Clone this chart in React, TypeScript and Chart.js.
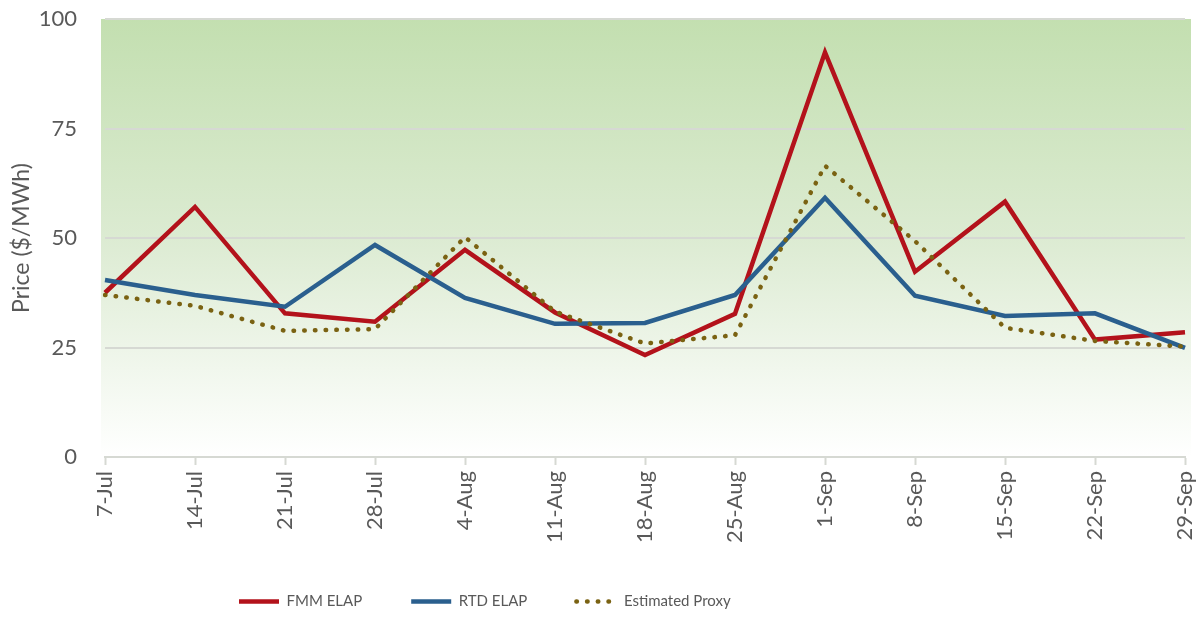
import React, { useEffect, useRef } from 'react';
import { Chart, registerables } from 'chart.js';

Chart.register(...registerables);

const categories = ['7-Jul', '14-Jul', '21-Jul', '28-Jul', '4-Aug', '11-Aug', '18-Aug', '25-Aug', '1-Sep', '8-Sep', '15-Sep', '22-Sep', '29-Sep'];
const fmmElap = [37.5, 57.1, 32.8, 30.9, 47.3, 33.0, 23.3, 32.7, 92.4, 42.3, 58.3, 26.8, 28.5];
const rtdElap = [40.4, 37.0, 34.3, 48.4, 36.3, 30.4, 30.6, 37.0, 59.2, 36.8, 32.2, 32.8, 24.9];
const estimatedProxy = [37.0, 34.5, 28.8, 29.2, 50.2, 33.2, 25.9, 27.8, 66.5, 49.3, 29.5, 26.5, 25.2];
const yTickValues = [0, 25, 50, 75, 100];
const seriesNames = ['FMM ELAP', 'RTD ELAP', 'Estimated Proxy'];

const TEXT = '#595959';
const GRID = '#d6d9d3';
const LEGEND_PAD = 49;

const backgroundPlugin = {
  id: 'gradientBg',
  beforeDraw(chart: any) {
    const { ctx, chartArea } = chart;
    if (!chartArea) return;
    const g = ctx.createLinearGradient(0, chartArea.top, 0, chartArea.bottom);
    g.addColorStop(0, '#c3dfb0');
    g.addColorStop(0.5, '#dcebd2');
    g.addColorStop(1, '#ffffff');
    ctx.save();
    ctx.fillStyle = g;
    ctx.fillRect(chartArea.left - 4, chartArea.top, chartArea.right - chartArea.left + 10, chartArea.bottom - chartArea.top);
    ctx.restore();
  },
};

const legendShiftPlugin = {
  id: 'legendShift',
  afterLayout(chart: any) {
    const lg = chart.legend;
    if (!lg) return;
    lg.left = 239 - LEGEND_PAD;
    lg.right = chart.width;
  },
};

export default function App() {
  const ref = useRef<HTMLCanvasElement | null>(null);

  useEffect(() => {
    if (!ref.current) return;
    Chart.defaults.font.family = 'Lato';
    const chart = new Chart(ref.current, {
      type: 'line',
      data: {
        labels: categories,
        datasets: [
          {
            label: seriesNames[0],
            data: fmmElap,
            borderColor: '#b3121b',
            backgroundColor: '#b3121b',
            borderWidth: 4.5,
            pointRadius: 0,
            pointHoverRadius: 0,
            tension: 0,
            order: 2,
          },
          {
            label: seriesNames[1],
            data: rtdElap,
            borderColor: '#2a5f8e',
            backgroundColor: '#2a5f8e',
            borderWidth: 4.5,
            pointRadius: 0,
            pointHoverRadius: 0,
            tension: 0,
            order: 1,
          },
          {
            label: seriesNames[2],
            data: estimatedProxy,
            borderColor: '#7a6212',
            backgroundColor: '#7a6212',
            borderWidth: 4.5,
            borderDash: [0.5, 10.2],
            borderCapStyle: 'round',
            pointRadius: 0,
            pointHoverRadius: 0,
            tension: 0,
            order: 0,
          },
        ],
      },
      options: {
        responsive: false,
        animation: false,
        devicePixelRatio: 1,
        layout: { padding: { top: 19, right: 19, bottom: 5, left: 0 } },
        plugins: {
          tooltip: { enabled: false },
          legend: {
            position: 'bottom',
            align: 'start',
            labels: {
              usePointStyle: true,
              pointStyleWidth: 40,
              padding: LEGEND_PAD,
              color: TEXT,
              font: { size: 15, family: 'Lato' },
              generateLabels: (c: any) => {
                const items = Chart.defaults.plugins.legend.labels.generateLabels(c);
                items.sort((a: any, b: any) => a.datasetIndex - b.datasetIndex);
                return items.map((it: any) => {
                  const ds: any = c.data.datasets[it.datasetIndex];
                  return {
                    ...it,
                    pointStyle: 'line',
                    lineWidth: 4.5,
                    strokeStyle: ds.borderColor,
                    fillStyle: ds.borderColor,
                    lineDash: ds.borderDash || [],
                    lineCap: ds.borderCapStyle || 'butt',
                    fontColor: TEXT,
                  };
                });
              },
            },
          },
        },
        scales: {
          x: {
            afterFit: (s: any) => {
              s.height = 88;
              s.paddingLeft = 0;
              s.paddingRight = 0;
            },
            grid: {
              display: true,
              drawOnChartArea: false,
              drawTicks: true,
              tickLength: 8,
              tickColor: GRID,
              tickWidth: 2,
            },
            border: { display: true, color: GRID, width: 2 },
            ticks: {
              autoSkip: false,
              minRotation: 90,
              maxRotation: 90,
              padding: 6,
              color: TEXT,
              font: { size: 22, family: 'Lato' },
            },
          },
          y: {
            min: 0,
            max: 100,
            afterFit: (s: any) => {
              s.width = 105;
              s.paddingTop = 0;
              s.paddingBottom = 0;
            },
            afterBuildTicks: (s: any) => {
              s.ticks = yTickValues.map((v) => ({ value: v }));
            },
            grid: { color: GRID, lineWidth: 2, drawTicks: false },
            border: { display: false },
            ticks: {
              padding: 28,
              color: TEXT,
              font: { size: 22, family: 'Lato' },
            },
            title: {
              display: true,
              text: 'Price ($/MWh)',
              color: TEXT,
              font: { size: 23, family: 'Lato' },
              padding: { top: 8, bottom: 0 },
            },
          },
        },
      },
      plugins: [backgroundPlugin, legendShiftPlugin],
    });
    return () => chart.destroy();
  }, []);

  return (
    <div style={{ position: 'absolute', left: 0, top: 0, width: 1204, height: 624, background: '#ffffff' }}>
      <canvas ref={ref} width={1204} height={624} />
    </div>
  );
}
